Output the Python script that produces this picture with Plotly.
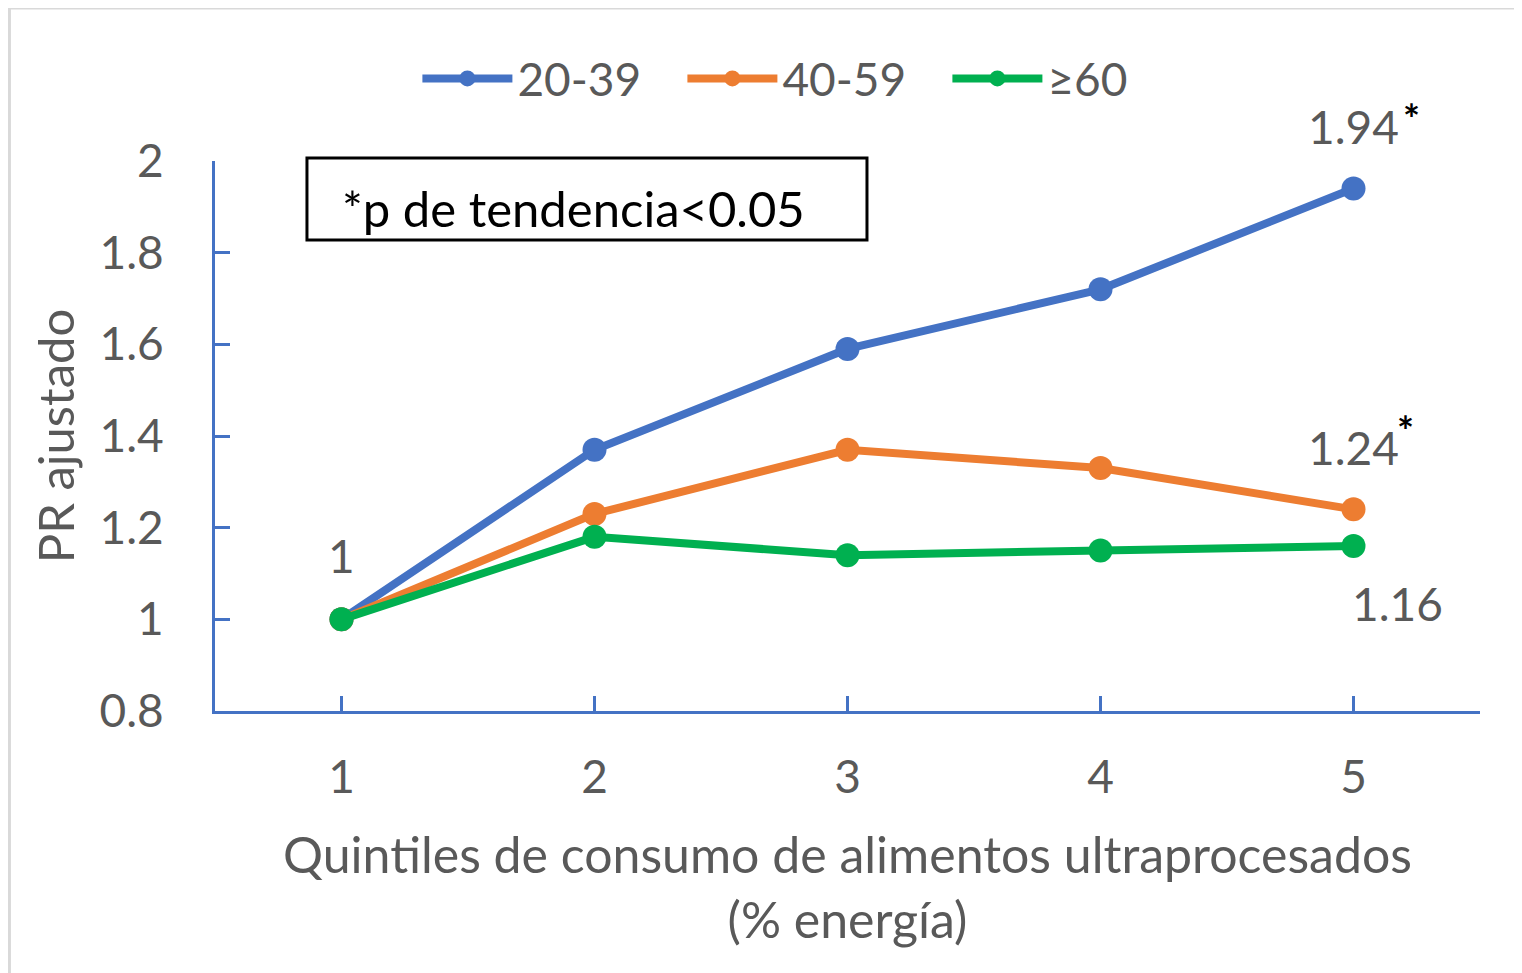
import plotly.graph_objects as go

quintiles = [1, 2, 3, 4, 5]
series_names = ["20-39", "40-59", "≥60"]
pr_20_39 = [1.0, 1.37, 1.59, 1.72, 1.94]
pr_40_59 = [1.0, 1.23, 1.37, 1.33, 1.24]
pr_60 = [1.0, 1.18, 1.14, 1.15, 1.16]
colors = ["#4472C4", "#ED7D31", "#00B050"]
y_ticks = [0.8, 1.0, 1.2, 1.4, 1.6, 1.8, 2.0]
y_tick_labels = ["0.8", "1", "1.2", "1.4", "1.6", "1.8", "2"]

FONT = "Lato"
GRAY = "#595959"
FS = 46
FT = 50

fig = go.Figure()
for name, vals, col in zip(series_names, [pr_20_39, pr_40_59, pr_60], colors):
    fig.add_trace(go.Scatter(
        x=quintiles, y=vals, name=name, mode="lines+markers",
        line=dict(color=col, width=8),
        marker=dict(color=col, size=24),
        cliponaxis=False,
    ))

# data labels
fig.add_annotation(x=quintiles[0], y=pr_20_39[0], text="1", showarrow=False,
                   yshift=64, font=dict(family=FONT, size=FS, color=GRAY))
fig.add_annotation(x=quintiles[4], y=pr_20_39[4], text="1.94", showarrow=False,
                   yshift=62, font=dict(family=FONT, size=FS, color=GRAY))
fig.add_annotation(x=quintiles[4], y=pr_20_39[4], text="<b>*</b>", showarrow=False,
                   yshift=70, xshift=58, font=dict(family=FONT, size=40, color="black"))
fig.add_annotation(x=quintiles[4], y=pr_40_59[4], text="1.24", showarrow=False,
                   yshift=62, font=dict(family=FONT, size=FS, color=GRAY))
fig.add_annotation(x=quintiles[4], y=pr_40_59[4], text="<b>*</b>", showarrow=False,
                   yshift=78, xshift=52, font=dict(family=FONT, size=40, color="black"))
fig.add_annotation(x=quintiles[4], y=pr_60[4], text="1.16", showarrow=False,
                   yshift=-57, xshift=44, font=dict(family=FONT, size=FS, color=GRAY))

# p-trend box
fig.add_shape(type="rect", xref="paper", yref="paper",
              x0=0.0727, x1=0.5154, y0=0.8564, y1=1.0055,
              line=dict(color="black", width=3), fillcolor="white", layer="below")
fig.add_annotation(xref="paper", yref="paper", x=0.0985, y=0.9145,
                   xanchor="left", yanchor="middle", showarrow=False,
                   text="*p de tendencia<0.05",
                   font=dict(family=FONT, size=49, color="black"))

# outer chart border (light gray)
fig.add_shape(type="line", xref="paper", yref="paper",
              x0=-0.1625, x1=1.2, y0=1.278, y1=1.278,
              line=dict(color="#D9D9D9", width=3))
fig.add_shape(type="line", xref="paper", yref="paper",
              x0=-0.1625, x1=-0.1625, y0=-0.6, y1=1.278,
              line=dict(color="#D9D9D9", width=3))

fig.update_layout(
    width=1514, height=965,
    margin=dict(l=207, r=42, t=153, b=262),
    paper_bgcolor="white", plot_bgcolor="white",
    font=dict(family=FONT, size=FS, color=GRAY),
    showlegend=True,
    legend=dict(orientation="h", x=0.160, xanchor="left", y=1.15, yanchor="middle",
                font=dict(family=FONT, size=FS, color=GRAY),
                itemwidth=90, entrywidth=160, entrywidthmode="pixels",
                bgcolor="rgba(0,0,0,0)"),
)
fig.update_xaxes(
    range=[0.5, 5.5], tickvals=quintiles, ticktext=[str(q) for q in quintiles],
    showline=True, linecolor="#4472C4", linewidth=3,
    ticks="inside", ticklen=15, tickwidth=3, tickcolor="#4472C4",
    showgrid=False, zeroline=False, ticklabelstandoff=24,
    tickfont=dict(family=FONT, size=FS, color=GRAY),
    title=dict(text="Quintiles de consumo de alimentos ultraprocesados<br>(% energía)",
               font=dict(family=FONT, size=FT, color=GRAY), standoff=36),
)
fig.update_yaxes(
    range=[0.8, 2.0], tickvals=y_ticks, ticktext=y_tick_labels,
    showline=True, linecolor="#4472C4", linewidth=3,
    ticks="inside", ticklen=15, tickwidth=3, tickcolor="#4472C4",
    showgrid=False, zeroline=False, ticklabelstandoff=39,
    tickfont=dict(family=FONT, size=FS, color=GRAY),
    title=dict(text="PR ajustado", font=dict(family=FONT, size=49, color=GRAY), standoff=10),
)

fig.write_html("out.html")
